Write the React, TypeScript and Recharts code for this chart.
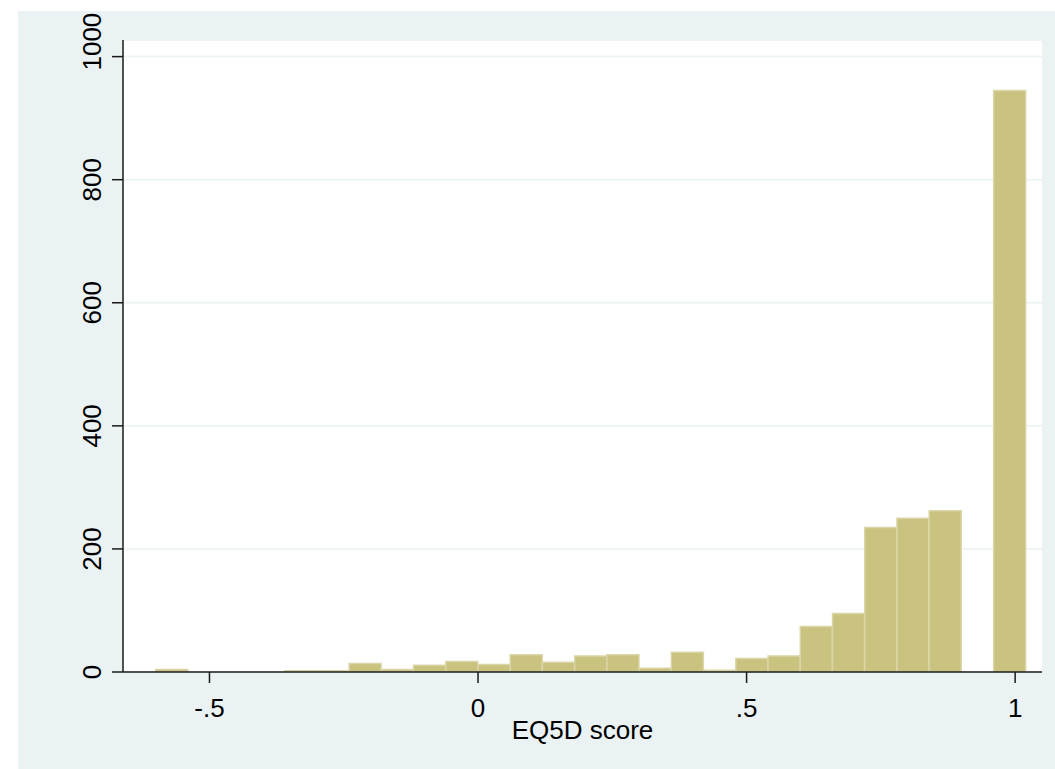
import React from 'react';
import { BarChart, Bar, XAxis, YAxis, CartesianGrid } from 'recharts';

// histogram bins: width .06, starting at -.6
const binMids = [
  -0.57, -0.51, -0.45, -0.39, -0.33, -0.27, -0.21, -0.15, -0.09, -0.03,
  0.03, 0.09, 0.15, 0.21, 0.27, 0.33, 0.39, 0.45, 0.51, 0.57,
  0.63, 0.69, 0.75, 0.81, 0.87, 0.93, 0.99,
];
const binCounts = [
  4, 0, 0, 0, 2, 2, 14, 4, 11, 17,
  12, 28, 16, 26, 28, 6, 32, 3, 22, 26,
  74, 95, 235, 250, 262, 0, 945,
];
const xTicks = [-0.5, 0, 0.5, 1];
const yTicks = [0, 200, 400, 600, 800, 1000];

const histData = binMids.map((mid, i) => ({ mid, count: binCounts[i] }));

const FONT = '"Liberation Sans", Arial, Helvetica, sans-serif';
const FS = 26;
const BG = '#EAF2F3';
const AXIS = '#1a1a1a';

const fmtX = (v: number) => {
  if (v === 0) return '0';
  return String(v).replace('0.', '.');
};

const XTick = (props: any) => {
  const { x, y, payload } = props;
  return (
    <text x={x} y={y} dy={34} textAnchor="middle" fontSize={FS} fontFamily={FONT} fill="#000">
      {fmtX(payload.value)}
    </text>
  );
};

const YTick = (props: any) => {
  const { x, payload } = props;
  // the top label is drawn a bit above its tick, as in the original
  const y = payload.value === yTicks[yTicks.length - 1] ? props.y - 15 : props.y;
  return (
    <text
      x={x}
      y={y}
      transform={`rotate(-90 ${x} ${y})`}
      textAnchor="middle"
      fontSize={FS}
      fontFamily={FONT}
      fill="#000"
    >
      {payload.value}
    </text>
  );
};

const App: React.FC = () => {
  return (
    <div
      style={{
        position: 'absolute',
        left: 0,
        top: 0,
        width: 1055,
        height: 769,
        background: '#fff',
        overflow: 'hidden',
        fontFamily: FONT,
      }}
    >
      <div style={{ position: 'absolute', left: 18, top: 11, right: 0, bottom: 0, background: BG }} />
      <div style={{ position: 'absolute', left: 0, top: 0 }}>
        <BarChart
          width={1055}
          height={769}
          data={histData}
          margin={{ top: 40, right: 13, bottom: 27, left: 18 }}
          barCategoryGap={0}
          barGap={0}
        >
          <CartesianGrid vertical={false} fill="#fff" stroke={BG} strokeWidth={1.5} />
          <XAxis
            dataKey="mid"
            type="number"
            domain={[-0.661, 1.05]}
            allowDataOverflow
            ticks={xTicks}
            tick={<XTick />}
            tickSize={11}
            tickMargin={0}
            height={70}
            axisLine={{ stroke: AXIS, strokeWidth: 1.5 }}
            tickLine={{ stroke: AXIS, strokeWidth: 1.5 }}
            label={{ value: 'EQ5D score', position: 'insideBottom', offset: 3, fontSize: FS, fill: '#000', fontFamily: FONT }}
          />
          <YAxis
            type="number"
            domain={[0, 1027]}
            allowDataOverflow
            ticks={yTicks}
            tick={<YTick />}
            tickSize={11}
            tickMargin={11}
            width={105}
            axisLine={{ stroke: AXIS, strokeWidth: 1.5 }}
            tickLine={{ stroke: AXIS, strokeWidth: 1.5 }}
          />
          <Bar dataKey="count" fill="#CAC27F" stroke="#DAD5A6" strokeWidth={1.5} isAnimationActive={false} />
        </BarChart>
      </div>
    </div>
  );
};

export default App;
